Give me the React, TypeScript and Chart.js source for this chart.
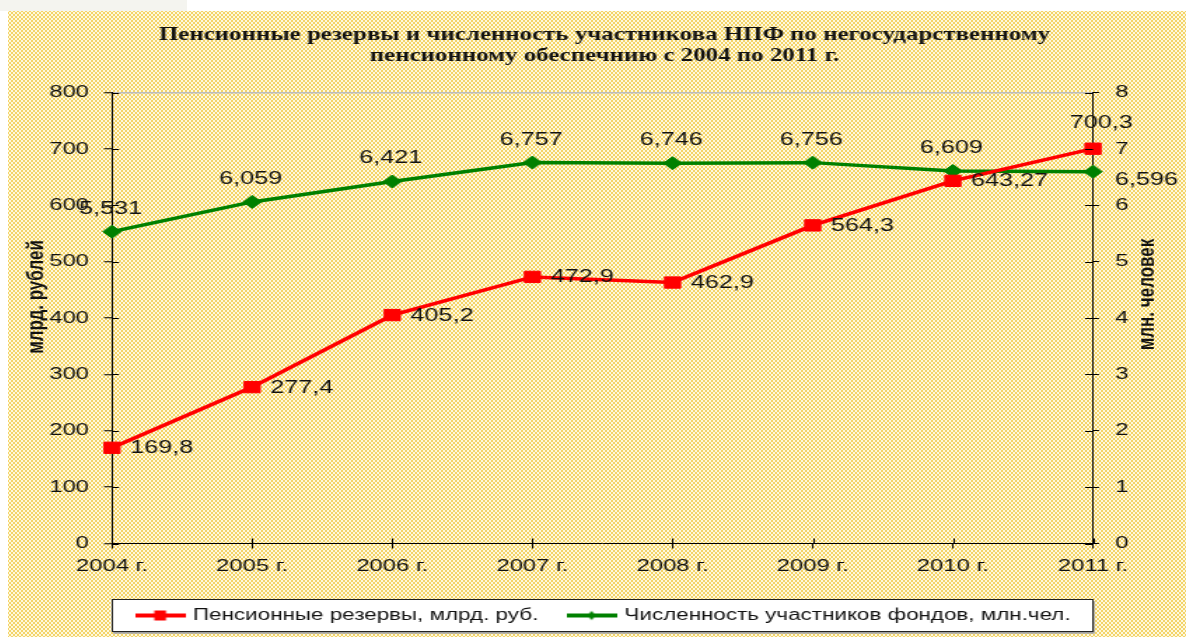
import React, { useEffect, useRef } from 'react';
import { Chart, registerables } from 'chart.js';

Chart.register(...registerables);

// ---------- data ----------
const years = ['2004 г.', '2005 г.', '2006 г.', '2007 г.', '2008 г.', '2009 г.', '2010 г.', '2011 г.'];
const reserves = [169.8, 277.4, 405.2, 472.9, 462.9, 564.3, 643.27, 700.3];
const members = [5.531, 6.059, 6.421, 6.757, 6.746, 6.756, 6.609, 6.596];
const titleLines = [
  'Пенсионные резервы и численность участникова НПФ по негосударственному',
  'пенсионному обеспечнию с 2004 по 2011 г.',
];
const reservesLabel = 'Пенсионные резервы, млрд. руб.';
const membersLabel = 'Численность участников фондов, млн.чел.';
const leftAxisTitle = 'млрд. рублей';
const rightAxisTitle = 'млн. человек';
const leftAxisRange = [0, 800, 100];
const rightAxisRange = [0, 8, 1];

// ---------- styling ----------
const W = 841;
const H = 626;
const SX = 1178 / W;
const SANS = '"Liberation Sans", Arial, sans-serif';
const SERIF = '"Liberation Serif", "Times New Roman", serif';
const INK = '#111111';
const RED = '#FF0000';
const GREEN = '#008000';
const LEGEND_PAD = 22.5;
const LEGEND_FONT = 16;
const ICON_W = 36;
const ICON_BOX = 31;

const fmt = (v: number) => String(v).replace('.', ',');

function makeIcon(kind: 'rect' | 'diamond', color: string) {
  const c = document.createElement('canvas');
  c.width = ICON_W;
  c.height = 14;
  const g = c.getContext('2d')!;
  const cx = ICON_W / 2;
  g.strokeStyle = color;
  g.lineWidth = 4;
  g.beginPath();
  g.moveTo(0, 7);
  g.lineTo(ICON_W, 7);
  g.stroke();
  g.fillStyle = color;
  if (kind === 'rect') {
    g.fillRect(cx - 4.2, 7 - 5, 8.4, 10);
  } else {
    g.beginPath();
    g.moveTo(cx - 3.2, 7);
    g.lineTo(cx, 7 - 4.5);
    g.lineTo(cx + 3.2, 7);
    g.lineTo(cx, 7 + 4.5);
    g.closePath();
    g.fill();
  }
  return c;
}

const decorPlugin = {
  id: 'decor',
  beforeDraw(chart: any) {
    const lg = chart.legend;
    if (!lg || !lg.legendHitBoxes || !lg.legendHitBoxes.length) return;
    const ctx = chart.ctx;
    const hb = lg.legendHitBoxes;
    const first = hb[0];
    const last = hb[hb.length - 1];
    const cy = lg.top + LEGEND_PAD + LEGEND_FONT / 2;
    const x0 = first.left - (ICON_W - ICON_BOX) / 2 - 17.1;
    const x1 = last.left + last.width + 15.7;
    const y0 = cy - 16.5;
    const y1 = cy + 16.2;
    ctx.save();
    ctx.fillStyle = '#a0a0a0';
    ctx.fillRect(x0 + 1.5, y0 + 2, x1 - x0, y1 - y0);
    ctx.fillStyle = '#ffffff';
    ctx.fillRect(x0, y0, x1 - x0, y1 - y0);
    ctx.strokeStyle = '#222';
    ctx.lineWidth = 1;
    ctx.strokeRect(Math.round(x0) + 0.5, Math.round(y0) + 0.5, Math.round(x1 - x0) - 1, Math.round(y1 - y0) - 1);
    ctx.restore();
  },
  afterDatasetsDraw(chart: any) {
    const ctx = chart.ctx;
    ctx.save();
    ctx.font = `18px ${SANS}`;
    ctx.fillStyle = INK;
    ctx.textBaseline = 'middle';
    const m0 = chart.getDatasetMeta(0);
    m0.data.forEach((pt: any, i: number) => {
      const txt = fmt(reserves[i]);
      if (i === m0.data.length - 1) {
        ctx.textAlign = 'center';
        ctx.fillText(txt, pt.x + 6, pt.y - 26);
      } else {
        ctx.textAlign = 'left';
        ctx.fillText(txt, pt.x + 13, pt.y + 0.5);
      }
    });
    const m1 = chart.getDatasetMeta(1);
    m1.data.forEach((pt: any, i: number) => {
      const txt = fmt(members[i]);
      if (i === m1.data.length - 1) {
        ctx.textAlign = 'left';
        ctx.fillText(txt, pt.x + 15.7, pt.y + 8);
      } else {
        ctx.textAlign = 'center';
        ctx.fillText(txt, pt.x - 1, pt.y - 23);
      }
    });
    ctx.restore();
  },
  afterDraw(chart: any) {
    const ctx = chart.ctx;
    const area = chart.chartArea;
    ctx.save();
    // inner halves of the crossing tick marks
    ctx.strokeStyle = '#000';
    ctx.lineWidth = 1;
    ctx.beginPath();
    const ys = chart.scales.y;
    ys.ticks.forEach((_t: any, i: number) => {
      const y = Math.round(ys.getPixelForTick(i)) + 0.5;
      ctx.moveTo(area.left, y);
      ctx.lineTo(area.left + 5, y);
    });
    const ys1 = chart.scales.y1;
    ys1.ticks.forEach((_t: any, i: number) => {
      const y = Math.round(ys1.getPixelForTick(i)) + 0.5;
      ctx.moveTo(area.right - 5.7, y);
      ctx.lineTo(area.right, y);
    });
    const xs = chart.scales.x;
    xs.ticks.forEach((_t: any, i: number) => {
      const x = Math.round(xs.getPixelForTick(i)) + 0.5;
      ctx.moveTo(x, area.bottom - 5);
      ctx.lineTo(x, area.bottom);
    });
    ctx.stroke();

    // axis titles (both read bottom-to-top)
    ctx.font = `bold 17px ${SANS}`;
    ctx.fillStyle = INK;
    ctx.textAlign = 'center';
    ctx.textBaseline = 'middle';
    ctx.save();
    ctx.translate(20, 286);
    ctx.rotate(-Math.PI / 2);
    ctx.fillText(leftAxisTitle, 0, 0);
    ctx.restore();
    ctx.save();
    ctx.translate(813.5, 283.5);
    ctx.rotate(-Math.PI / 2);
    ctx.fillText(rightAxisTitle, 0, 0);
    ctx.restore();
    ctx.restore();
  },
};

export default function App() {
  const ref = useRef<HTMLCanvasElement>(null);

  useEffect(() => {
    if (!ref.current) return;
    const icons = [makeIcon('rect', RED), makeIcon('diamond', GREEN)];
    const chart = new Chart(ref.current, {
      type: 'line',
      data: {
        labels: years,
        datasets: [
          {
            label: reservesLabel,
            data: reserves,
            yAxisID: 'y',
            borderColor: RED,
            backgroundColor: RED,
            borderWidth: 3.5,
            pointStyle: 'rect',
            pointRadius: 8,
            pointBorderWidth: 1,
            pointBackgroundColor: RED,
            pointBorderColor: RED,
            tension: 0,
            fill: false,
            clip: false,
          },
          {
            label: membersLabel,
            data: members,
            yAxisID: 'y1',
            borderColor: GREEN,
            backgroundColor: GREEN,
            borderWidth: 3.5,
            pointStyle: 'rectRot',
            pointRadius: 6.5,
            pointBorderWidth: 1,
            pointBackgroundColor: GREEN,
            pointBorderColor: GREEN,
            tension: 0,
            fill: false,
            clip: false,
          },
        ],
      },
      options: {
        responsive: false,
        animation: false,
        events: [],
        layout: { padding: { left: 10.7, right: 0, top: 0, bottom: 3.5 } },
        plugins: {
          tooltip: { enabled: false },
          title: {
            display: true,
            text: titleLines,
            color: INK,
            font: { family: SERIF, size: 17.8, weight: 'bold', lineHeight: 21 / 17.8 },
            padding: { top: 14, bottom: 25.5 },
          },
          legend: {
            display: true,
            position: 'bottom',
            labels: {
              usePointStyle: true,
              pointStyleWidth: ICON_BOX,
              boxHeight: LEGEND_FONT,
              padding: LEGEND_PAD,
              color: INK,
              font: { family: SANS, size: LEGEND_FONT },
              generateLabels: (c: any) =>
                c.data.datasets.map((ds: any, i: number) => ({
                  text: ds.label,
                  pointStyle: icons[i],
                  fillStyle: ds.borderColor,
                  strokeStyle: ds.borderColor,
                  lineWidth: 0,
                  hidden: false,
                  datasetIndex: i,
                  fontColor: INK,
                })),
            },
          },
        },
        scales: {
          x: {
            type: 'category',
            offset: false,
            grid: { drawOnChartArea: false, drawTicks: true, tickLength: 5, tickColor: '#000', tickWidth: 1 },
            border: { display: true, color: '#000', width: 1 },
            ticks: { color: INK, font: { family: SANS, size: 17 }, padding: 7.3, maxRotation: 0, autoSkip: false },
            afterFit: (s: any) => {
              s.height = 42.5 - (LEGEND_FONT - 15);
            },
          },
          y: {
            type: 'linear',
            position: 'left',
            min: leftAxisRange[0],
            max: leftAxisRange[1],
            ticks: { stepSize: leftAxisRange[2], color: INK, font: { family: SANS, size: 17 }, padding: 10.75 },
            grid: {
              color: (c: any) => (c.tick && c.tick.value === leftAxisRange[1] ? '#bcbcbc' : 'rgba(0,0,0,0)'),
              lineWidth: 1.5,
              tickColor: '#000',
              tickWidth: 1,
              tickLength: 5.7,
            },
            border: { display: true, color: '#000', width: 1 },
            afterFit: (s: any) => {
              s.width = 63.55;
            },
          },
          y1: {
            type: 'linear',
            position: 'right',
            min: rightAxisRange[0],
            max: rightAxisRange[1],
            ticks: { stepSize: rightAxisRange[2], color: INK, font: { family: SANS, size: 17 }, padding: 11.5 },
            grid: { drawOnChartArea: false, tickColor: '#000', tickWidth: 1, tickLength: 4.3 },
            border: { display: true, color: '#000', width: 1 },
            afterFit: (s: any) => {
              s.width = 66.4;
            },
          },
        },
      } as any,
      plugins: [decorPlugin],
    });
    return () => chart.destroy();
  }, []);

  const pattern: React.CSSProperties = {
    backgroundColor: '#F3D46A',
    backgroundImage:
      'radial-gradient(circle, rgba(255,250,228,0.95) 0.9px, rgba(255,250,228,0) 1.2px), radial-gradient(circle, rgba(255,250,228,0.95) 0.9px, rgba(255,250,228,0) 1.2px)',
    backgroundSize: '4px 4px',
    backgroundPosition: '0 0, 2px 2px',
  };

  return (
    <div style={{ position: 'absolute', left: 0, top: 0, width: 1186, height: 637, background: '#ffffff', overflow: 'hidden' }}>
      <div style={{ position: 'absolute', left: 0, top: 0, width: 187, height: 11, background: '#f4f4ef' }} />
      <div style={{ position: 'absolute', left: 8, top: 11, width: 1178, height: 626, ...pattern }}>
        <div style={{ width: W, height: H, transform: `scaleX(${SX})`, transformOrigin: '0 0' }}>
          <canvas ref={ref} width={W} height={H} />
        </div>
      </div>
    </div>
  );
}
